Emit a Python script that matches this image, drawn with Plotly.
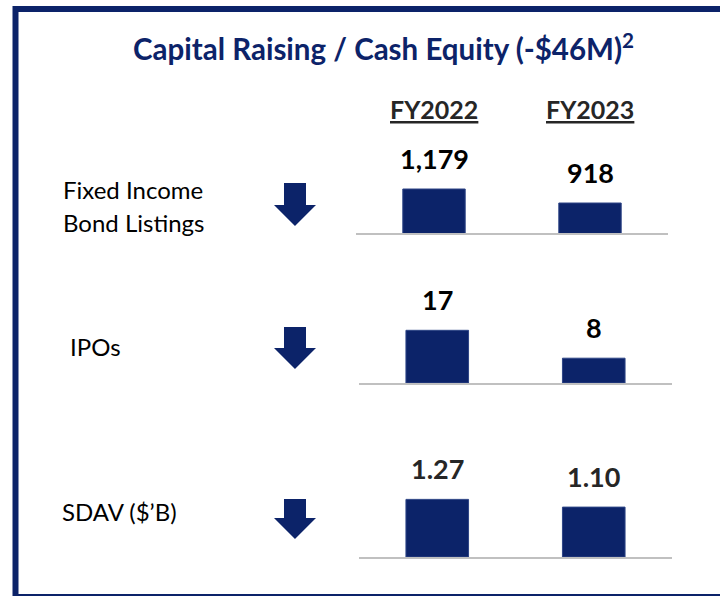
import plotly.graph_objects as go

W, H = 720, 596
NAVY = "#0C2369"

# ---- data ----
years = ["FY2022", "FY2023"]
bond_listings = [1179, 918]
ipos = [17, 8]
sdav = [1.27, 1.10]
bond_text = ["1,179", "918"]
ipo_text = ["17", "8"]
sdav_text = ["1.27", "1.10"]
row_labels = ["Fixed Income", "Bond Listings", "IPOs", "SDAV ($\u2019B)"]
title_text = "Capital Raising / Cash Equity (-$46M)<sup>2</sup>"


def px(x):
    return x / W


def py(y):
    return 1 - y / H


rows = [
    dict(vals=bond_listings, text=bond_text, xd=(356, 668), yd=(140, 233), rng=[359, 2092], col="#000000"),
    dict(vals=ipos, text=ipo_text, xd=(359, 672), yd=(290, 383), rng=[0, 30], col="#000000"),
    dict(vals=sdav, text=sdav_text, xd=(359, 672), yd=(464, 557), rng=[0, 2.05], col="#262626"),
]

fig = go.Figure()
annotations = []
layout_axes = {}
for i, r in enumerate(rows, start=1):
    sfx = "" if i == 1 else str(i)
    fig.add_trace(go.Bar(
        x=years, y=r["vals"], width=0.4,
        marker=dict(color=NAVY, line=dict(color="#2E4586", width=1)),
        xaxis="x" + sfx, yaxis="y" + sfx, hoverinfo="skip", showlegend=False,
    ))
    layout_axes["xaxis" + sfx] = dict(
        domain=[px(r["xd"][0]), px(r["xd"][1])], anchor="y" + sfx,
        range=[-0.5, 1.5], showticklabels=False, ticks="", showgrid=False,
        zeroline=False, showline=True, linecolor="#C0C0C0", linewidth=2,
        fixedrange=True,
    )
    layout_axes["yaxis" + sfx] = dict(
        domain=[py(r["yd"][1]), py(r["yd"][0])], anchor="x" + sfx,
        range=r["rng"], visible=False, fixedrange=True,
    )
    for cat, v, t in zip(years, r["vals"], r["text"]):
        annotations.append(dict(
            x=cat, y=v, xref="x" + sfx, yref="y" + sfx, text="<b>" + t + "</b>",
            showarrow=False, yshift=31, yanchor="middle",
            font=dict(family="Lato", size=27, color=r["col"]),
        ))

# column headers
for cat in years:
    annotations.append(dict(
        x=cat, y=py(109), xref="x", yref="paper", text="<b><u>" + cat + "</u></b>",
        showarrow=False, yanchor="middle",
        font=dict(family="Lato", size=25, color="#262626"),
    ))

# title
annotations.append(dict(
    x=px(383), y=py(47), xref="paper", yref="paper", text="<b>" + title_text + "</b>",
    showarrow=False, xanchor="center", yanchor="middle",
    font=dict(family="Lato", size=29.5, color=NAVY),
))

# row labels
label_pos = [(61, 190), (61, 222), (68, 346), (60, 511)]
for t, (lx, ly) in zip(row_labels, label_pos):
    annotations.append(dict(
        x=px(lx), y=py(ly), xref="paper", yref="paper", text=t,
        showarrow=False, xanchor="left", yanchor="middle",
        font=dict(family="Lato", size=24, color="#000000"),
    ))

shapes = []
# down arrows
for top, head, tip in [(183, 205, 226), (327, 348, 369), (499, 518, 539)]:
    pts = [(284, top), (306, top), (306, head), (316, head), (295, tip), (274, head), (284, head)]
    path = "M " + " L ".join(f"{px(a):.5f},{py(b):.5f}" for a, b in pts) + " Z"
    shapes.append(dict(type="path", path=path, xref="paper", yref="paper",
                       fillcolor=NAVY, line=dict(width=0)))

# frame
shapes.append(dict(type="rect", xref="paper", yref="paper",
                   x0=px(15.5), x1=px(740), y0=py(597), y1=py(9),
                   line=dict(color=NAVY, width=6), fillcolor="rgba(0,0,0,0)"))

fig.update_layout(
    width=W, height=H, margin=dict(l=0, r=0, t=0, b=0),
    paper_bgcolor="white", plot_bgcolor="white",
    annotations=annotations, shapes=shapes, bargap=0.6,
    **layout_axes,
)

fig.write_html(
    "out.html",
    config={"displayModeBar": False, "staticPlot": True},
    post_script="document.body.style.margin='0px';document.body.style.overflow='hidden';",
)
